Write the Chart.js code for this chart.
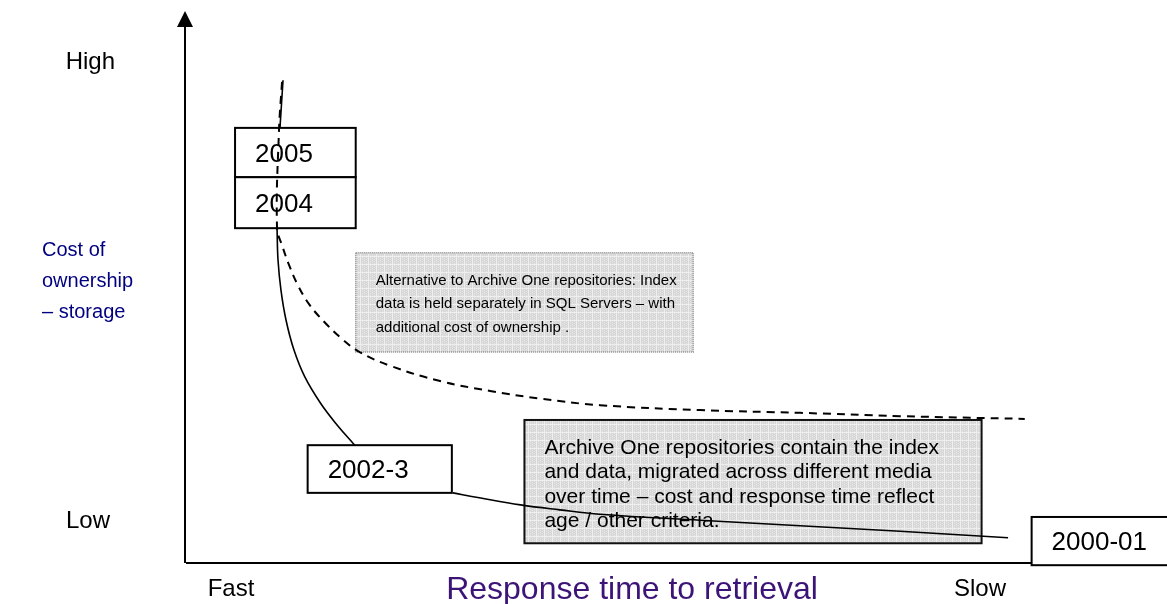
<!DOCTYPE html>
<html lang="en">
<head>
  <meta charset="UTF-8">
  <title>Cost of ownership vs response time</title>
  <script src="https://cdn.jsdelivr.net/npm/chart.js"></script>
  <style>
    html, body { margin: 0; padding: 0; background: #fff; }
    #wrap { width: 1167px; height: 604px; position: relative; }
  </style>
</head>
<body>
  <div id="wrap"><canvas id="chart"></canvas></div>

  <script>
    // Archive One repositories (solid curve); null = hidden behind a year box
    const solidX = [9.89, 9.58, null, 9.28, 9.38, 9.68, 10.2, 11.0, 12.1, 13.7, 15.4, 17.2, null, 27.2, 29.9, 34.1, 38.1, 42.2, 52.4, 62.6, 72.8, 83.8];
    const solidY = [88.1, 79.4, null, 61.1, 55.3, 49.8, 44.3, 38.9, 34.0, 29.2, 25.2, 21.5, null, 12.8, 11.9, 10.6, 9.7, 8.9, 7.8, 6.8, 5.8, 4.6];

    // Alternative with SQL Server index (dashed curve)
    const dashX = [9.79, 9.48, 9.28, 9.79, 10.5, 11.4, 12.6, 14.2, 15.9, 17.7, 20.8, 25.9, 31.0, 36.1, 42.2, 52.4, 62.6, 72.8, 85.5];
    const dashY = [87.8, 79.0, 61.1, 58.0, 54.4, 50.7, 47.1, 43.8, 40.9, 38.5, 36.0, 33.2, 31.4, 30.0, 28.8, 27.9, 27.4, 26.8, 26.3];

    // year boxes: [x1, yTop, x2, yBottom] in axis units
    const yearLabels = ['2005', '2004', '2002-3', '2000-01'];
    const yearBoxes = [[5.0, 79.4, 17.3, 70.4], [5.0, 70.4, 17.3, 61.1], [12.4, 21.5, 27.1, 12.8], [86.2, 8.4, 101, -0.4]];

    // note boxes
    const noteLines = [
      ['Alternative to Archive One repositories: Index', 'data is held separately in SQL Servers \u2013 with', 'additional cost of ownership .'],
      ['Archive One repositories contain the index', 'and data, migrated across different media', 'over time \u2013 cost and response time reflect', 'age / other criteria.']
    ];
    const noteBoxes = [[17.3, 56.6, 51.7, 38.5], [34.5, 26.1, 81.1, 3.6]];

    const yTickLabels = ['High', 'Low'];
    const xTickLabels = ['Fast', 'Slow'];
    const yTitle = ['Cost of', 'ownership', '\u2013 storage'];
    const xTitle = 'Response time to retrieval';

    const FONT = '"Liberation Sans", Arial, sans-serif';

    function toPoints(xs, ys) {
      return xs.map((x, i) => ({ x: x, y: x === null ? null : ys[i] }));
    }

    function grayPattern(ctx) {
      const c = document.createElement('canvas');
      c.width = 8; c.height = 8;
      const g = c.getContext('2d');
      g.fillStyle = '#d8d8d8';
      g.fillRect(0, 0, 8, 8);
      g.fillStyle = '#e6e6e6';
      for (let i = 0; i < 8; i += 2) {
        for (let j = (i / 2) % 2; j < 8; j += 2) g.fillRect(i, j, 1, 1);
      }
      g.fillStyle = '#eeeeee';
      g.fillRect(0, 0, 8, 1);
      g.fillRect(0, 0, 1, 8);
      return ctx.createPattern(c, 'repeat');
    }

    const diagram = {
      id: 'diagram',
      beforeDatasetsDraw(chart) {
        const { ctx, chartArea: a, scales: { x, y } } = chart;
        ctx.save();

        // axes
        ctx.strokeStyle = '#000';
        ctx.lineWidth = 2;
        ctx.beginPath();
        ctx.moveTo(a.left, a.bottom);
        ctx.lineTo(a.right, a.bottom);
        ctx.moveTo(a.left - 1, a.bottom);
        ctx.lineTo(a.left - 1, a.top + 10);
        ctx.stroke();
        ctx.fillStyle = '#000';
        ctx.beginPath();
        ctx.moveTo(a.left - 1, a.top - 4);
        ctx.lineTo(a.left - 9, a.top + 12);
        ctx.lineTo(a.left + 7, a.top + 12);
        ctx.closePath();
        ctx.fill();

        // note boxes
        const pat = grayPattern(ctx);
        noteBoxes.forEach((b, i) => {
          const l = x.getPixelForValue(b[0]), t = y.getPixelForValue(b[1]);
          const r = x.getPixelForValue(b[2]), btm = y.getPixelForValue(b[3]);
          ctx.fillStyle = pat;
          ctx.fillRect(l, t, r - l, btm - t);
          if (i === 0) {
            ctx.setLineDash([1, 1]);
            ctx.strokeStyle = '#8a8a8a';
            ctx.lineWidth = 1.5;
          } else {
            ctx.setLineDash([]);
            ctx.strokeStyle = '#111';
            ctx.lineWidth = 2;
          }
          ctx.strokeRect(l, t, r - l, btm - t);
          ctx.setLineDash([]);
          ctx.fillStyle = '#000';
          ctx.textAlign = 'left';
          ctx.textBaseline = 'middle';
          const size = i === 0 ? 15 : 21;
          const lh = i === 0 ? 23.5 : 24.5;
          ctx.font = size + 'px ' + FONT;
          noteLines[i].forEach((s, k) => ctx.fillText(s, l + 20, t + 28 + k * lh));
        });

        // year boxes
        yearBoxes.forEach((b, i) => {
          const l = x.getPixelForValue(b[0]), t = y.getPixelForValue(b[1]);
          const r = x.getPixelForValue(b[2]), btm = y.getPixelForValue(b[3]);
          ctx.fillStyle = '#fff';
          ctx.fillRect(l, t, r - l, btm - t);
          ctx.strokeStyle = '#000';
          ctx.lineWidth = 2;
          ctx.strokeRect(l, t, r - l, btm - t);
          ctx.fillStyle = '#000';
          ctx.font = '26px ' + FONT;
          ctx.textAlign = 'left';
          ctx.textBaseline = 'middle';
          ctx.fillText(yearLabels[i], l + 20, (t + btm) / 2 + 2);
        });

        // axis labels
        ctx.fillStyle = '#000';
        ctx.font = '24px ' + FONT;
        ctx.textAlign = 'right';
        ctx.textBaseline = 'middle';
        ctx.fillText(yTickLabels[0], a.left - 71, a.top + 47);
        ctx.fillText(yTickLabels[1], a.left - 76, a.bottom - 42);
        ctx.textAlign = 'center';
        ctx.fillText(xTickLabels[0], a.left + 45, a.bottom + 26);
        ctx.fillText(xTickLabels[1], a.right - 187, a.bottom + 26);

        ctx.fillStyle = '#000080';
        ctx.textAlign = 'left';
        ctx.font = '20px ' + FONT;
        yTitle.forEach((s, k) => ctx.fillText(s, 42, 250 + k * 31));

        ctx.fillStyle = '#3c1478';
        ctx.textAlign = 'center';
        ctx.font = '32px ' + FONT;
        ctx.fillText(xTitle, 632, a.bottom + 27);

        ctx.restore();
      }
    };

    new Chart(document.getElementById('chart'), {
      type: 'scatter',
      data: {
        datasets: [
          {
            label: 'Archive One repositories',
            data: toPoints(solidX, solidY),
            showLine: true,
            spanGaps: false,
            borderColor: '#000',
            borderWidth: 1.6,
            pointRadius: 0,
            tension: 0.4
          },
          {
            label: 'SQL Server index',
            data: toPoints(dashX, dashY),
            showLine: true,
            borderColor: '#000',
            borderWidth: 2,
            borderDash: [8, 6],
            pointRadius: 0,
            tension: 0.4
          }
        ]
      },
      options: {
        responsive: true,
        maintainAspectRatio: false,
        animation: false,
        layout: { padding: { left: 186, right: 0, top: 15, bottom: 41 } },
        plugins: { legend: { display: false }, tooltip: { enabled: false } },
        scales: {
          x: { type: 'linear', min: 0, max: 100, display: false },
          y: { type: 'linear', min: 0, max: 100, display: false }
        }
      },
      plugins: [diagram]
    });
  </script>
</body>
</html>
